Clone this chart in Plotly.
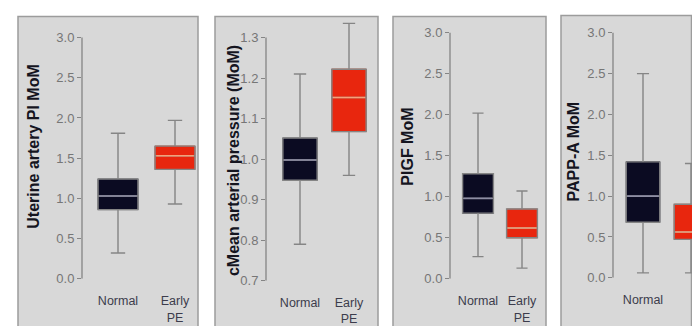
import plotly.graph_objects as go

W, H = 692, 326

groups = ["Normal", "Early<br>PE"]
titles = ["Uterine artery PI MoM", "cMean arterial pressure (MoM)", "PlGF MoM", "PAPP-A MoM"]

# box statistics per panel: [Normal, Early PE]
uta_low = [0.32, 0.93]
uta_q1 = [0.86, 1.36]
uta_med = [1.03, 1.53]
uta_q3 = [1.24, 1.65]
uta_high = [1.81, 1.97]

map_low = [0.79, 0.96]
map_q1 = [0.948, 1.068]
map_med = [0.998, 1.152]
map_q3 = [1.052, 1.222]
map_high = [1.21, 1.335]

plgf_low = [0.27, 0.13]
plgf_q1 = [0.80, 0.50]
plgf_med = [0.98, 0.62]
plgf_q3 = [1.28, 0.85]
plgf_high = [2.02, 1.07]

papp_low = [0.06, 0.06]
papp_q1 = [0.68, 0.47]
papp_med = [1.00, 0.56]
papp_q3 = [1.42, 0.90]
papp_high = [2.50, 1.40]

ticks_a = [0.0, 0.5, 1.0, 1.5, 2.0, 2.5, 3.0]
ticks_b = [0.7, 0.8, 0.9, 1.0, 1.1, 1.2, 1.3]

stats = [
    (uta_low, uta_q1, uta_med, uta_q3, uta_high),
    (map_low, map_q1, map_med, map_q3, map_high),
    (plgf_low, plgf_q1, plgf_med, plgf_q3, plgf_high),
    (papp_low, papp_q1, papp_med, papp_q3, papp_high),
]
tickvals = [ticks_a, ticks_b, ticks_a, ticks_a]

# layout geometry in pixels
geo = [
    dict(frame=(18, 11, 198), axis=82, c0=118, sp=57, right=198, plo=285, phi=33, top=3.02, title=(34, 147)),
    dict(frame=(215, 11, 378), axis=266, c0=300, sp=49, right=378, plo=287, phi=33, top=1.35, title=(233, 162)),
    dict(frame=(393, 11, 546), axis=450, c0=478, sp=44, right=546, plo=285, phi=28, top=3.02, title=(408, 147)),
    dict(frame=(561, 10, 691.5), axis=613, c0=643, sp=48, right=692, plo=284, phi=28, top=3.02, title=(573, 152)),
]

box_colors = ["#0b0b22", "#e8260e"]
edge_colors = ["#2a2a3c", "#c0300e"]
med_colors = ["#8e8ea4", "#f4a27a"]
whisk = "#858585"
FONT = "Liberation Sans, Arial"

fig = go.Figure()
shapes = []
annotations = []
layout = {}

for p in range(4):
    g = geo[p]
    low, q1, med, q3, high = stats[p]
    tv = tickvals[p]
    lo, hi = tv[0], tv[-1]
    sfx = "" if p == 0 else str(p + 1)
    xa, ya = "x" + sfx, "y" + sfx

    for i in range(2):
        fig.add_trace(go.Box(
            x=[i], q1=[q1[i]], median=[med[i]], q3=[q3[i]],
            lowerfence=[low[i]], upperfence=[high[i]],
            width=0.7, whiskerwidth=0.36,
            fillcolor=box_colors[i], line=dict(color=whisk, width=1.4),
            boxpoints=False, showlegend=False, hoverinfo="skip",
            xaxis=xa, yaxis=ya,
        ))
    fig.add_trace(go.Bar(
        x=[0, 1], y=[q3[i] - q1[i] for i in range(2)], base=q1, width=0.7,
        marker=dict(color=box_colors, line=dict(color=edge_colors, width=1)),
        showlegend=False, hoverinfo="skip", xaxis=xa, yaxis=ya,
    ))
    for i in range(2):
        fig.add_trace(go.Scatter(
            x=[i - 0.33, i + 0.33], y=[med[i], med[i]], mode="lines",
            line=dict(color=med_colors[i], width=1.6),
            showlegend=False, hoverinfo="skip", xaxis=xa, yaxis=ya,
        ))

    scale = (g["plo"] - g["phi"]) / (hi - lo)
    top_px = g["plo"] - (g["top"] - lo) * scale
    layout["xaxis" + sfx] = dict(
        domain=[g["axis"] / W, g["right"] / W],
        range=[(g["axis"] - g["c0"]) / g["sp"], (g["right"] - g["c0"]) / g["sp"]],
        tickvals=[0, 1], ticktext=groups, showgrid=False, zeroline=False,
        showline=False, ticks="", ticklabelstandoff=13,
        tickfont=dict(family=FONT, size=12.5, color="#3c3c4c"),
        anchor=ya, fixedrange=True,
    )
    layout["yaxis" + sfx] = dict(
        domain=[1 - g["plo"] / H, 1 - top_px / H],
        range=[lo, g["top"]], tickvals=tv, ticktext=[f"{v:.1f}" for v in tv],
        showgrid=False, zeroline=False, showline=False,
        ticks="outside", ticklen=4, tickwidth=1, tickcolor=whisk,
        tickfont=dict(family=FONT, size=13, color="#767676"),
        anchor=xa, fixedrange=True,
    )
    fx0, fy0, fx1 = g["frame"]
    shapes.append(dict(type="rect", xref="paper", yref="paper",
                       x0=fx0 / W, x1=fx1 / W, y0=-0.2, y1=1 - fy0 / H,
                       fillcolor="#d8d8d8", line=dict(color="#9c9c9c", width=1.5), layer="below"))
    shapes.append(dict(type="line", xref=xa + " domain", yref=ya,
                       x0=0, x1=0, y0=lo, y1=hi, line=dict(color=whisk, width=1.3)))
    tx, ty = g["title"]
    annotations.append(dict(text="<b>" + titles[p] + "</b>", xref="paper", yref="paper",
                            x=tx / W, y=1 - ty / H, textangle=-90, showarrow=False,
                            xanchor="center", yanchor="middle",
                            font=dict(family=FONT, size=16, color="#15151f")))

fig.update_layout(
    width=W, height=H, margin=dict(l=0, r=0, t=0, b=0),
    paper_bgcolor="white", plot_bgcolor="rgba(0,0,0,0)",
    shapes=shapes, annotations=annotations, showlegend=False, barmode="overlay",
    **layout,
)

fig.write_html("out.html", config={"displayModeBar": False})
